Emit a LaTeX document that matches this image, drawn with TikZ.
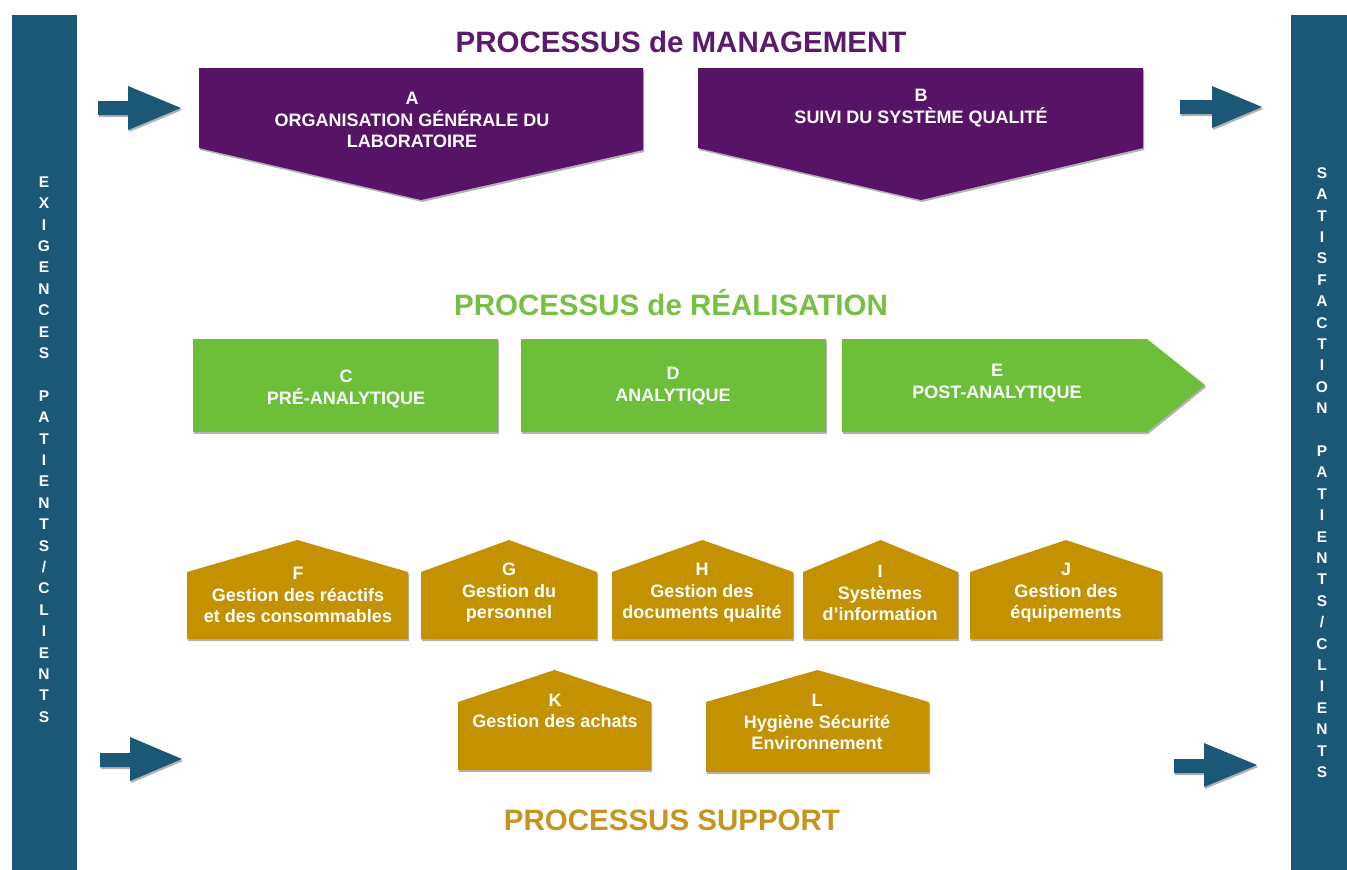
\documentclass[tikz,border=0pt]{standalone}
\usepackage{fontspec}
\setmainfont{Liberation Sans}
\usetikzlibrary{shadows}
\definecolor{barblue}{HTML}{1B5878}
\definecolor{purp}{HTML}{571466}
\definecolor{purptitle}{HTML}{5C1A6D}
\definecolor{grn}{HTML}{6DBF3A}
\definecolor{grntitle}{HTML}{76C043}
\definecolor{gold}{HTML}{C49100}
\definecolor{goldtitle}{HTML}{C6941F}
\begin{document}
\begin{tikzpicture}[x=1pt,y=-1pt,
  shd/.style={drop shadow={opacity=0.3,shadow xshift=1.2pt,shadow yshift=-2pt,fill=black}},
  boxtxt/.style={text=white,font=\fontsize{18}{21.5}\selectfont\bfseries,align=center,inner sep=0pt},
  title/.style={font=\fontsize{29.5}{33}\selectfont\bfseries,inner sep=0pt},
  vletter/.style={text=white,font=\fontsize{15.5}{15.5}\selectfont\bfseries,inner sep=0pt},
  arrowshape/.style={fill=barblue,shd}]
\useasboundingbox (0,0) rectangle (1347,870);
\fill[white] (0,0) rectangle (1347,870);
% side bars
\fill[barblue] (12,15) rectangle (77,870);
\fill[barblue] (1291,15) rectangle (1347,870);
\foreach \l [count=\i] in {E,X,I,G,E,N,C,E,S,,P,A,T,I,E,N,T,S,/,C,L,I,E,N,T,S}
  \node[vletter] (lx\i) at (44,{182+(\i-1)*21.4}) {\l};
\foreach \l [count=\i] in {S,A,T,I,S,F,A,C,T,I,O,N,,P,A,T,I,E,N,T,S,/,C,L,I,E,N,T,S}
  \node[vletter] (rx\i) at (1322,{173+(\i-1)*21.4}) {\l};
% arrows
\fill[arrowshape] (98,101) -- (128,101) -- (128,86) -- (181,108) -- (128,130) -- (128,115) -- (98,115) -- cycle;
\fill[arrowshape] (1180,100) -- (1212,100) -- (1212,86) -- (1262,107) -- (1212,128) -- (1212,114) -- (1180,114) -- cycle;
\fill[arrowshape] (100,753) -- (130,753) -- (130,737) -- (182,759) -- (130,781) -- (130,767) -- (100,767) -- cycle;
\fill[arrowshape] (1174,759) -- (1204,759) -- (1204,743) -- (1257,765) -- (1204,787) -- (1204,773) -- (1174,773) -- cycle;
% titles
\node[title,text=purptitle] (tman) at (681,42) {PROCESSUS de MANAGEMENT};
\node[title,text=grntitle] (treal) at (671,303) {PROCESSUS de RÉALISATION};
\node[title,text=goldtitle] (tsup) at (672,820) {PROCESSUS SUPPORT};
% management boxes
\fill[purp,shd] (199,68) -- (643,68) -- (643,150) -- (421,200) -- (199,148) -- cycle;
\fill[purp,shd] (698,68) -- (1143,68) -- (1143,148) -- (921,200) -- (698,148) -- cycle;
\node[boxtxt] (A) at (412,120) {A\\ORGANISATION GÉNÉRALE DU\\LABORATOIRE};
\node[boxtxt] (B) at (921,108) {B\\SUIVI DU SYSTÈME QUALITÉ};
% realisation
\fill[grn,shd] (193,339) rectangle (498,432);
\fill[grn,shd] (521,339) rectangle (826,432);
\fill[grn,shd] (842,339) -- (1147,339) -- (1205,385) -- (1147,432) -- (842,432) -- cycle;
\node[boxtxt] (C) at (346,389) {C\\PRÉ-ANALYTIQUE};
\node[boxtxt] (D) at (673,386) {D\\ANALYTIQUE};
\node[boxtxt] (E) at (997,383) {E\\POST-ANALYTIQUE};
% support houses
\foreach \xl/\xr/\pk/\ev/\bt in {187/408/540/572/639, 421/597/540/572/639, 612/793/540/572/639, 803/958/540/572/639, 970/1162/540/572/639, 458/651/670/702/770, 706/929/670/702/772}
  \fill[gold,shd] (\xl,\bt) -- (\xl,\ev) -- ({(\xl+\xr)/2},\pk) -- (\xr,\ev) -- (\xr,\bt) -- cycle;
\node[boxtxt] (F) at (298,595) {F\\Gestion des réactifs\\et des consommables};
\node[boxtxt] (G) at (509,593) {G\\Gestion du\\personnel};
\node[boxtxt] (H) at (702,593) {H\\Gestion des\\documents qualité};
\node[boxtxt] (I) at (880,593) {I\\Systèmes\\d’information};
\node[boxtxt] (J) at (1066,593) {J\\Gestion des\\équipements};
\node[boxtxt] (K) at (555,711) {K\\Gestion des achats};
\node[boxtxt] (L) at (817,722) {L\\Hygiène Sécurité\\Environnement};
\end{tikzpicture}
\end{document}
